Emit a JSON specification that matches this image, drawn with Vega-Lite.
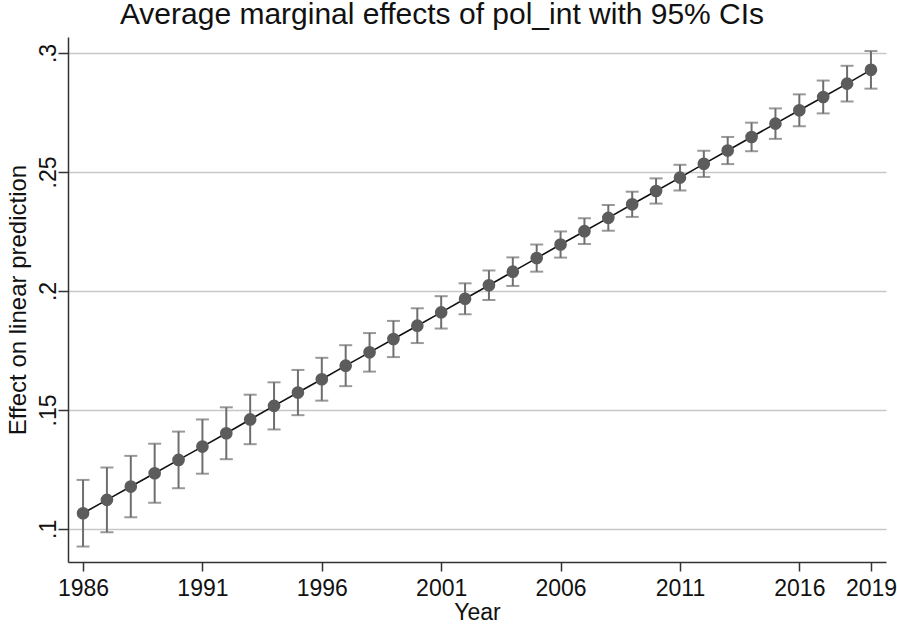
{
  "$schema": "https://vega.github.io/schema/vega-lite/v6.json",
  "width": 818,
  "height": 525,
  "autosize": "none",
  "padding": {"left": 68, "top": 37, "right": 11, "bottom": 62},
  "background": "white",
  "config": {
    "font": "Liberation Sans",
    "view": {"stroke": null},
    "axis": {
      "labelFont": "Liberation Sans",
      "titleFont": "Liberation Sans",
      "labelColor": "#111111",
      "titleColor": "#111111",
      "titleFontWeight": "normal",
      "domainColor": "#333333",
      "domainWidth": 1.5,
      "tickColor": "#333333",
      "tickWidth": 1.5
    }
  },
  "title": {
    "text": "Average marginal effects of pol_int with 95% CIs",
    "font": "Liberation Sans",
    "fontSize": 30,
    "fontWeight": "normal",
    "color": "#111111",
    "anchor": "middle",
    "dx": -35,
    "dy": 28,
    "baseline": "bottom",
    "offset": 5
  },
  "data": {
    "values": [
      {"year": 1986, "effect": 0.1066, "lo": 0.0926, "hi": 0.1206},
      {"year": 1987, "effect": 0.1122, "lo": 0.0986, "hi": 0.1258},
      {"year": 1988, "effect": 0.1178, "lo": 0.1049, "hi": 0.1307},
      {"year": 1989, "effect": 0.1234, "lo": 0.1110, "hi": 0.1358},
      {"year": 1990, "effect": 0.1290, "lo": 0.1171, "hi": 0.1409},
      {"year": 1991, "effect": 0.1346, "lo": 0.1232, "hi": 0.1460},
      {"year": 1992, "effect": 0.1402, "lo": 0.1293, "hi": 0.1511},
      {"year": 1993, "effect": 0.1460, "lo": 0.1356, "hi": 0.1564},
      {"year": 1994, "effect": 0.1517, "lo": 0.1418, "hi": 0.1616},
      {"year": 1995, "effect": 0.1573, "lo": 0.1478, "hi": 0.1668},
      {"year": 1996, "effect": 0.1629, "lo": 0.1539, "hi": 0.1719},
      {"year": 1997, "effect": 0.1686, "lo": 0.1600, "hi": 0.1772},
      {"year": 1998, "effect": 0.1742, "lo": 0.1661, "hi": 0.1823},
      {"year": 1999, "effect": 0.1798, "lo": 0.1722, "hi": 0.1874},
      {"year": 2000, "effect": 0.1854, "lo": 0.1781, "hi": 0.1927},
      {"year": 2001, "effect": 0.1910, "lo": 0.1842, "hi": 0.1978},
      {"year": 2002, "effect": 0.1967, "lo": 0.1902, "hi": 0.2032},
      {"year": 2003, "effect": 0.2024, "lo": 0.1962, "hi": 0.2086},
      {"year": 2004, "effect": 0.2081, "lo": 0.2021, "hi": 0.2141},
      {"year": 2005, "effect": 0.2138, "lo": 0.2081, "hi": 0.2195},
      {"year": 2006, "effect": 0.2195, "lo": 0.2140, "hi": 0.2250},
      {"year": 2007, "effect": 0.2251, "lo": 0.2197, "hi": 0.2305},
      {"year": 2008, "effect": 0.2307, "lo": 0.2253, "hi": 0.2361},
      {"year": 2009, "effect": 0.2364, "lo": 0.2311, "hi": 0.2417},
      {"year": 2010, "effect": 0.2420, "lo": 0.2367, "hi": 0.2473},
      {"year": 2011, "effect": 0.2476, "lo": 0.2422, "hi": 0.2530},
      {"year": 2012, "effect": 0.2534, "lo": 0.2479, "hi": 0.2589},
      {"year": 2013, "effect": 0.2590, "lo": 0.2533, "hi": 0.2647},
      {"year": 2014, "effect": 0.2647, "lo": 0.2587, "hi": 0.2707},
      {"year": 2015, "effect": 0.2703, "lo": 0.2639, "hi": 0.2767},
      {"year": 2016, "effect": 0.2759, "lo": 0.2692, "hi": 0.2826},
      {"year": 2017, "effect": 0.2815, "lo": 0.2746, "hi": 0.2884},
      {"year": 2018, "effect": 0.2871, "lo": 0.2796, "hi": 0.2946},
      {"year": 2019, "effect": 0.2929, "lo": 0.2850, "hi": 0.3008}
    ]
  },
  "encoding": {
    "x": {
      "field": "year",
      "type": "quantitative",
      "scale": {"domain": [1985.37, 2019.63], "nice": false, "zero": false},
      "axis": {
        "title": "Year",
        "values": [1986, 1991, 1996, 2001, 2006, 2011, 2016, 2019],
        "format": "d",
        "grid": false,
        "labelFontSize": 23,
        "titleFontSize": 23,
        "tickSize": 9,
        "labelPadding": 6,
        "titlePadding": 1
      }
    }
  },
  "layer": [
    {
      "mark": {"type": "rule", "color": "#6e6e6e", "strokeWidth": 2},
      "encoding": {
        "y": {
          "field": "lo",
          "type": "quantitative",
          "scale": {"domain": [0.0861, 0.3067], "nice": false, "zero": false},
          "axis": {
            "title": "Effect on linear prediction",
            "values": [0.1, 0.15, 0.2, 0.25, 0.3],
            "labelExpr": "replace(format(datum.value, '.2~f'), /^0/, '')",
            "grid": true,
            "gridColor": "#c8c8c8",
            "gridWidth": 1.5,
            "labelAngle": -90,
            "labelAlign": "center",
            "labelBaseline": "alphabetic",
            "labelFontSize": 23,
            "titleFontSize": 24,
            "tickSize": 10,
            "labelPadding": 3,
            "titlePadding": 7
          }
        },
        "y2": {"field": "hi"}
      }
    },
    {
      "mark": {"type": "tick", "orient": "horizontal", "color": "#6e6e6e", "size": 13, "thickness": 2},
      "encoding": {"y": {"field": "lo", "type": "quantitative"}}
    },
    {
      "mark": {"type": "tick", "orient": "horizontal", "color": "#6e6e6e", "size": 13, "thickness": 2},
      "encoding": {"y": {"field": "hi", "type": "quantitative"}}
    },
    {
      "mark": {"type": "line", "color": "#111111", "strokeWidth": 1.6},
      "encoding": {"y": {"field": "effect", "type": "quantitative"}}
    },
    {
      "mark": {"type": "point", "filled": true, "shape": "circle", "color": "#5c5c5c", "opacity": 1, "size": 160},
      "encoding": {"y": {"field": "effect", "type": "quantitative"}}
    }
  ]
}
